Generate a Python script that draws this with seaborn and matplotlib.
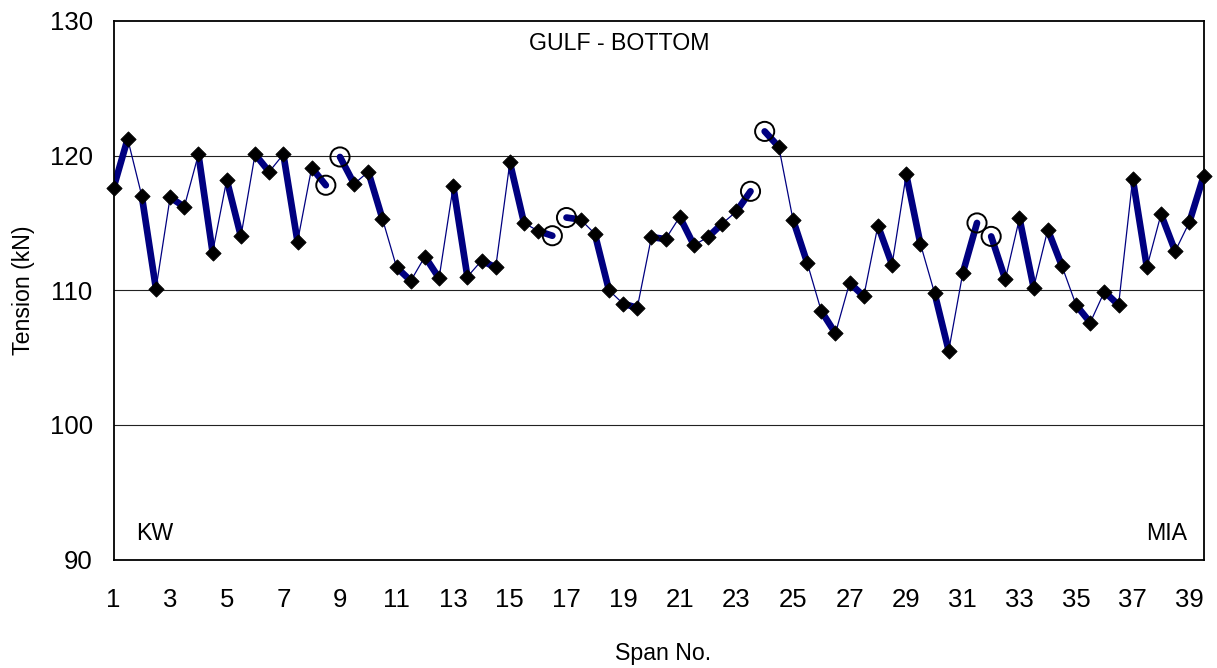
import numpy as np
import pandas as pd
import matplotlib
matplotlib.use("Agg")
import matplotlib.pyplot as plt
import seaborn as sns

# ---- data ----
span_positions = [
    1, 1.5, 2, 2.5, 3, 3.5, 4, 4.5, 5, 5.5, 6, 6.5, 7, 7.5, 8, 8.5, 9, 9.5, 10, 10.5,
    11, 11.5, 12, 12.5, 13, 13.5, 14, 14.5, 15, 15.5, 16, 16.5, 17, 17.5, 18, 18.5,
    19, 19.5, 20, 20.5, 21, 21.5, 22, 22.5, 23, 23.5, 24, 24.5, 25, 25.5, 26, 26.5,
    27, 27.5, 28, 28.5, 29, 29.5, 30, 30.5, 31, 31.5, 32, 32.5, 33, 33.5, 34, 34.5,
    35, 35.5, 36, 36.5, 37, 37.5, 38, 38.5, 39, 39.5,
]
tension_kn = [
    117.6, 121.25, 117.0, 110.1, 116.9, 116.2, 120.1, 112.8, 118.2, 114.0,
    120.1, 118.8, 120.1, 113.6, 119.1, 117.8, 119.9, 117.9, 118.8, 115.3,
    111.7, 110.7, 112.5, 110.9, 117.75, 111.0, 112.2, 111.7, 119.5, 115.0,
    114.4, 114.05, 115.4, 115.25, 114.2, 110.0, 109.0, 108.7, 113.95, 113.8,
    115.45, 113.35, 113.95, 114.95, 115.85, 117.35, 121.8, 120.65, 115.25, 112.05,
    108.45, 106.8, 110.55, 109.55, 114.8, 111.9, 118.6, 113.45, 109.8, 105.5,
    111.3, 115.0, 114.0, 110.8, 115.35, 110.2, 114.5, 111.8, 108.9, 107.6,
    109.9, 108.9, 118.3, 111.7, 115.65, 112.9, 115.05, 118.45,
]
# points shown with an open circle (no diamond, no connecting thin line)
circled_positions = [8.5, 9, 16.5, 17, 23.5, 24, 31.5, 32]

x_ticks = list(range(1, 40, 2))
x_tick_labels = [str(t) for t in x_ticks]
y_ticks = [90, 100, 110, 120, 130]
title_text = "GULF - BOTTOM"
left_text = "KW"
right_text = "MIA"
x_label = "Span No."
y_label = "Tension (kN)"

# ---- build table ----
df = pd.DataFrame({"x": span_positions, "tension": tension_kn})
df["span"] = np.floor(df["x"]).astype(int)
df["circled"] = df["x"].isin(circled_positions)
df["run"] = df["circled"].cumsum()
measured = df[~df["circled"]]
circled = df[df["circled"]]

# ---- style ----
sns.set_theme(style="white")
plt.rcParams["font.family"] = ["Liberation Sans", "DejaVu Sans"]

W, H, DPI = 1217, 668, 100
fig = plt.figure(figsize=(W / DPI, H / DPI), dpi=DPI)
ax = fig.add_axes([113.5 / W, 1 - 559.5 / H, (1203.5 - 113.5) / W, (559.5 - 21) / H])

navy = "#000080"

# thin connecting line (between spans), broken at circled points
sns.lineplot(data=measured, x="x", y="tension", units="run", estimator=None,
             color=navy, lw=0.9, ax=ax, legend=False, sort=False)
# thick line within each span
sns.lineplot(data=df, x="x", y="tension", units="span", estimator=None,
             color=navy, lw=4.8, ax=ax, legend=False, sort=False,
             solid_capstyle="round")
# diamonds at measured points
sns.scatterplot(data=measured, x="x", y="tension", marker="D", s=60,
                color="black", edgecolor="black", linewidth=0.6, ax=ax,
                legend=False, zorder=4, clip_on=False)
# open circles
sns.scatterplot(data=circled, x="x", y="tension", marker="o", s=190,
                facecolor="none", edgecolor="black", linewidth=1.4, ax=ax,
                legend=False, zorder=5, clip_on=False)

ax.set_xlim(1, 39.5)
ax.set_ylim(90, 130)
ax.set_xticks(x_ticks)
ax.set_xticklabels(x_tick_labels)
ax.set_yticks(y_ticks)

for yv in y_ticks[1:-1]:
    ax.axhline(yv, color="#222222", lw=0.8, zorder=0)

for s in ax.spines.values():
    s.set_visible(True)
    s.set_color("black")
    s.set_linewidth(1.3)

ax.tick_params(axis="both", which="major", direction="out", length=5.5, width=1,
               color="black", labelsize=18.5, labelcolor="black")
ax.tick_params(axis="y", pad=9.5)
ax.tick_params(axis="x", pad=15)
ax.tick_params(axis="x", top=False)
ax.tick_params(axis="y", right=False)

ax.set_xlabel(x_label, fontsize=16.7, color="black")
ax.set_ylabel(y_label, fontsize=16.7, color="black")
ax.xaxis.set_label_coords(0.504, -(660 - 559.5) / (559.5 - 21))
ax.xaxis.label.set_verticalalignment("baseline")
ax.yaxis.set_label_coords(-(113.5 - 35) / 1090, 0.5)

ax.text(18.85, 127.85, title_text, ha="center", va="baseline", fontsize=16.7, color="black")
ax.text(2.45, 91.45, left_text, ha="center", va="baseline", fontsize=16.7, color="black")
ax.text(38.2, 91.45, right_text, ha="center", va="baseline", fontsize=16.7, color="black")

fig.savefig("out.png", dpi=DPI)
